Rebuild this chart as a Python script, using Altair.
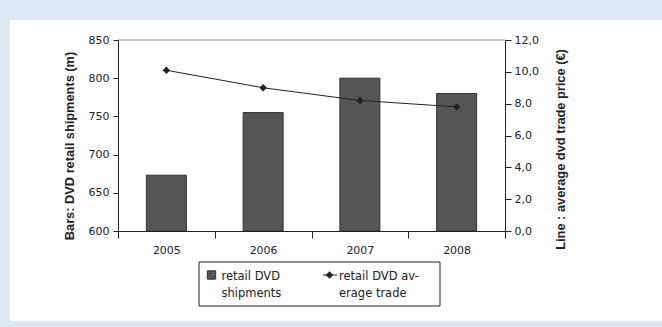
import altair as alt
import pandas as pd

# DVD market: retail shipments (bars) and average trade price (line)
years = ["2005", "2006", "2007", "2008"]
shipments = [673, 755, 800, 780]
avg_price = [10.1, 9.0, 8.2, 7.8]

left_ticks = [600, 650, 700, 750, 800, 850]
right_ticks = [0, 2, 4, 6, 8, 10, 12]

legend_labels = [["retail DVD", "shipments"], ["retail DVD av-", "erage trade"]]

df = pd.DataFrame({"year": years, "shipments": shipments, "price": avg_price})
one = pd.DataFrame({"k": [0]})

W, H = 387, 191
LABEL_FONT = "DejaVu Sans"
TITLE_FONT = "Liberation Sans"
INK = "#222222"

x_enc = alt.X(
    "year:N",
    sort=years,
    title=None,
    scale=alt.Scale(paddingInner=0, paddingOuter=0),
    axis=alt.Axis(
        zindex=2,
        tickBand="extent",
        tickSize=7,
        tickColor=INK,
        domainColor=INK,
        labelAngle=0,
        labelPadding=6,
        labelFont=LABEL_FONT,
        labelFontSize=11,
        labelColor=INK,
    ),
)

panel = alt.Chart(one).mark_rect(fill="white").encode(
    x=alt.value(-108), x2=alt.value(544), y=alt.value(-20), y2=alt.value(281)
)
top_line = alt.Chart(one).mark_rule(color="#9a9a9a", strokeWidth=1).encode(
    x=alt.value(0), x2=alt.value(W), y=alt.value(0)
)

bars = alt.Chart(df).mark_bar(
    size=40, fill="#555555", stroke="#333333", strokeWidth=1
).encode(
    x=x_enc,
    y=alt.Y(
        "shipments:Q",
        scale=alt.Scale(domain=[600, 850], zero=False, nice=False),
        axis=alt.Axis(
            zindex=2,
            orient="left",
            values=left_ticks,
            grid=False,
            tickSize=5,
            tickColor=INK,
            domainColor=INK,
            labelFont=LABEL_FONT,
            labelFontSize=11,
            labelColor=INK,
            labelPadding=4,
            title="Bars: DVD retail shipments (m)",
            titleFont=TITLE_FONT,
            titleFontSize=12.8,
            titleFontWeight="bold",
            titleColor=INK,
            titleAngle=270,
            titleBaseline="alphabetic",
            titleAlign="center",
            titleX=-44.5,
            titleY=105.5,
        ),
    ),
    y2=alt.datum(600),
)

price_y = alt.Y(
    "price:Q",
    scale=alt.Scale(domain=[0, 12], nice=False),
    axis=alt.Axis(
        zindex=2,
        orient="right",
        values=right_ticks,
        grid=False,
        tickSize=6,
        tickColor=INK,
        domainColor=INK,
        labelExpr="replace(format(datum.value, '.1f'), '.', ',')",
        labelFont=LABEL_FONT,
        labelFontSize=11,
        labelColor=INK,
        labelPadding=3,
        title="Line : average dvd trade price (€)",
        titleFont=TITLE_FONT,
        titleFontSize=12.8,
        titleFontWeight="bold",
        titleColor=INK,
        titleAngle=270,
        titleBaseline="alphabetic",
        titleAlign="center",
        titleX=59,
        titleY=109,
    ),
)

line = alt.Chart(df).mark_line(color=INK, strokeWidth=1).encode(x=x_enc, y=price_y)
points = alt.Chart(df).mark_point(
    shape="diamond", filled=True, size=55, color=INK, opacity=1
).encode(x=x_enc, y=price_y)
price_layer = alt.layer(line, points)

# legend drawn below the plot
leg_box = alt.Chart(one).mark_rect(fill="white", stroke=INK, strokeWidth=1).encode(
    x=alt.value(81), x2=alt.value(322), y=alt.value(222), y2=alt.value(266)
)
leg_square = alt.Chart(one).mark_square(
    size=70, fill="#555555", stroke="#333333", strokeWidth=1, opacity=1
).encode(x=alt.value(93.5), y=alt.value(235))
leg_line = alt.Chart(one).mark_rule(color=INK, strokeWidth=1).encode(
    x=alt.value(205), x2=alt.value(219), y=alt.value(235)
)
leg_diamond = alt.Chart(one).mark_point(
    shape="diamond", filled=True, size=55, color=INK, opacity=1
).encode(x=alt.value(211.5), y=alt.value(235))
leg_text1 = alt.Chart(one).mark_text(
    align="left", baseline="alphabetic", font=LABEL_FONT, fontSize=11.5, color=INK, lineHeight=17
).encode(x=alt.value(103.5), y=alt.value(240), text=alt.value(legend_labels[0]))
leg_text2 = alt.Chart(one).mark_text(
    align="left", baseline="alphabetic", font=LABEL_FONT, fontSize=11.5, color=INK, lineHeight=17
).encode(x=alt.value(221), y=alt.value(240), text=alt.value(legend_labels[1]))

chart = (
    alt.layer(
        panel, top_line, bars, price_layer,
        leg_box, leg_square, leg_line, leg_diamond, leg_text1, leg_text2,
    )
    .resolve_scale(y="independent")
    .properties(
        width=W,
        height=H,
        background="#dee8f4",
        padding={"left": 118, "top": 40, "right": 157, "bottom": 96},
        autosize=alt.AutoSizeParams(type="none"),
    )
    .configure_view(stroke=None)
)

chart.save("out.html", embed_options={"renderer": "svg", "actions": False})
